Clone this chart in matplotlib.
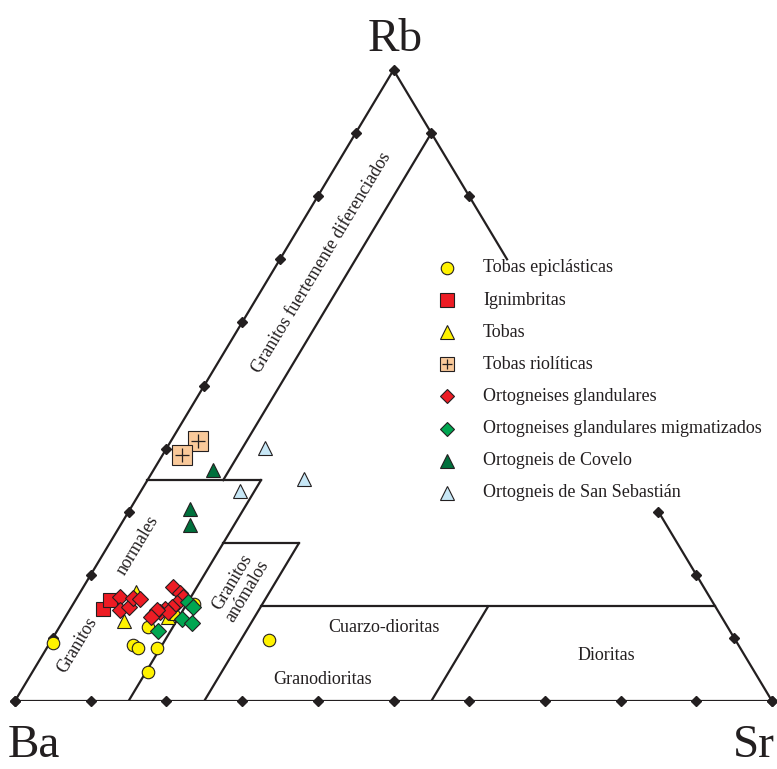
import matplotlib.pyplot as plt

# Ternary data in percent (Ba = 100 - Sr - Rb)
epiclasticas_sr = [0.4, 11.7, 11.2, 12.1, 14.6, 15.3, 16.0, 28.7]
epiclasticas_rb = [9.2, 11.7, 8.9, 8.4, 8.4, 4.6, 15.4, 9.7]

ignimbritas_sr = [4.3, 4.6]
ignimbritas_rb = [14.6, 16.0]

tobas_sr = [8.1, 7.3, 13.6, 14.3]
tobas_rb = [12.7, 17.3, 13.3, 13.9]

riol_sr = [3.6, 2.6]
riol_rb = [41.2, 39.0]

glandulares_sr = [5.6, 6.7, 7.6, 7.4, 8.4, 11.8, 13.3, 13.9, 13.7, 13.3,
                  12.5, 12.1, 11.4, 13.2, 11.6, 11.3]
glandulares_rb = [16.5, 14.4, 14.9, 16.3, 16.2, 18.1, 17.1, 16.5, 15.5, 14.9,
                  14.6, 14.1, 13.6, 14.1, 14.4, 13.3]

migmat_sr = [15.0, 16.1, 15.6, 17.2, 13.3]
migmat_rb = [15.7, 14.9, 13.0, 12.4, 11.1]

covelo_sr = [7.9, 7.9, 9.2]
covelo_rb = [36.6, 30.4, 27.9]

sanseb_sr = [13.0, 20.6, 13.1]
sanseb_rb = [40.1, 35.2, 33.3]

# field boundaries: (Sr1, Rb1, Sr2, Rb2)
boundaries = [
    (10, 35, 10, 90),
    (0, 35, 15, 35),
    (15, 0, 15, 35),
    (15, 25, 25, 25),
    (25, 0, 25, 25),
    (25, 15, 85, 15),
    (55, 0, 55, 15),
]

H = 631 / 757


def tern(sr, rb):
    x = [s + r / 2 for s, r in zip(sr, rb)]
    y = [r * H for r in rb]
    return x, y


plt.rcParams['font.family'] = ['Liberation Serif', 'DejaVu Serif']

fig = plt.figure(figsize=(7.77, 7.69), dpi=100)
ax = fig.add_axes([15 / 777, 68 / 769, 757 / 777, 631 / 769])
ax.set_xlim(0, 100)
ax.set_ylim(0, 100 * H)
ax.axis('off')

lw = 1.6
ink = '#231f20'
# outer triangle (right edge interrupted by the legend)
for sr, rb in [([0, 0], [0, 100]), ([0, 100], [0, 0]),
               ([0, 30], [100, 70]), ([70, 100], [30, 0])]:
    x, y = tern(sr, rb)
    ax.plot(x, y, color=ink, lw=lw, zorder=2)

for s1, r1, s2, r2 in boundaries:
    x, y = tern([s1, s2], [r1, r2])
    ax.plot(x, y, color=ink, lw=lw, zorder=2)

# tick diamonds
ticks = list(range(0, 101, 10))
x, y = tern([0] * len(ticks), ticks)
ax.plot(x, y, 'D', color=ink, ms=5, ls='none', clip_on=False, zorder=3)
x, y = tern(ticks, [0] * len(ticks))
ax.plot(x, y, 'D', color=ink, ms=5, ls='none', clip_on=False, zorder=3)
right = [0, 10, 20, 30, 80, 90]
x, y = tern([100 - t for t in right], right)
ax.plot(x, y, 'D', color=ink, ms=5, ls='none', clip_on=False, zorder=3)

ek = dict(ls='none', mec=ink, mew=0.8, clip_on=False, zorder=4)
series = [
    (epiclasticas_sr, epiclasticas_rb, dict(marker='o', ms=9, mfc='#fff200'),
     'Tobas epiclásticas'),
    (ignimbritas_sr, ignimbritas_rb, dict(marker='s', ms=9.5, mfc='#ed1c24'),
     'Ignimbritas'),
    (tobas_sr, tobas_rb, dict(marker='^', ms=10.5, mfc='#fff200'), 'Tobas'),
    (riol_sr, riol_rb, dict(marker='s', ms=14, mfc='#f9c99a'), 'Tobas riolíticas'),
    (glandulares_sr, glandulares_rb, dict(marker='D', ms=8, mfc='#ed1c24'),
     'Ortogneises glandulares'),
    (migmat_sr, migmat_rb, dict(marker='D', ms=8, mfc='#00a651'),
     'Ortogneises glandulares migmatizados'),
    (covelo_sr, covelo_rb, dict(marker='^', ms=10.5, mfc='#00703c'),
     'Ortogneis de Covelo'),
    (sanseb_sr, sanseb_rb, dict(marker='^', ms=10.5, mfc='#c7e7f6'),
     'Ortogneis de San Sebastián'),
]

for sr, rb, style, label in series:
    x, y = tern(sr, rb)
    ax.plot(x, y, **style, **ek)
    if label == 'Tobas riolíticas':
        ax.plot(x, y, marker='+', ms=10, mew=0.9, color=ink, ls='none', zorder=5)

# legend drawn by hand next to the right edge
lx, tx = (447 - 15) / 7.57, (483 - 15) / 7.57
for i, (sr, rb, style, label) in enumerate(series):
    ly = (701 - 268 - i * 32.1) / 7.57
    st = dict(style)
    if label == 'Tobas riolíticas':
        st['ms'] = 9.5
    elif st['marker'] == '^':
        st['ms'] = 10
    elif st['marker'] == 'D':
        st['ms'] = 7
    ax.plot([lx], [ly], **st, **ek)
    if label == 'Tobas riolíticas':
        ax.plot([lx], [ly], marker='+', ms=7, mew=0.9, color=ink, ls='none', zorder=5)
    ax.text(tx, ly, label, fontsize=13, va='center', ha='left', color=ink)


def px(xp, yp):
    return (xp - 15) / 7.57, (701 - yp) / 7.57


# field labels
rot = 59
for lab, (xp, yp) in [('Granitos fuertemente diferenciados', (322, 263)),
                      ('normales', (138, 545)),
                      ('Granitos', (77, 645)),
                      ('Granitos\nanómalos', (240, 587))]:
    xd, yd = px(xp, yp)
    ax.text(xd, yd, lab, fontsize=13, rotation=rot, rotation_mode='anchor',
            ha='center', va='center', color=ink, linespacing=1.0)

for lab, (xp, yp) in [('Cuarzo-dioritas', (384, 627)),
                      ('Granodioritas', (323, 680)),
                      ('Dioritas', (606, 656))]:
    xd, yd = px(xp, yp)
    ax.text(xd, yd, lab, fontsize=13, ha='center', va='center', color=ink)

# apex labels
fig.text(395 / 777, 1 - 40 / 769, 'Rb', fontsize=34, ha='center', va='center', color=ink)
fig.text(8 / 777, 2 / 769, 'Ba', fontsize=34, ha='left', va='bottom', color=ink)
fig.text(775 / 777, 2 / 769, 'Sr', fontsize=34, ha='right', va='bottom', color=ink)

fig.savefig('out.png', dpi=100)
